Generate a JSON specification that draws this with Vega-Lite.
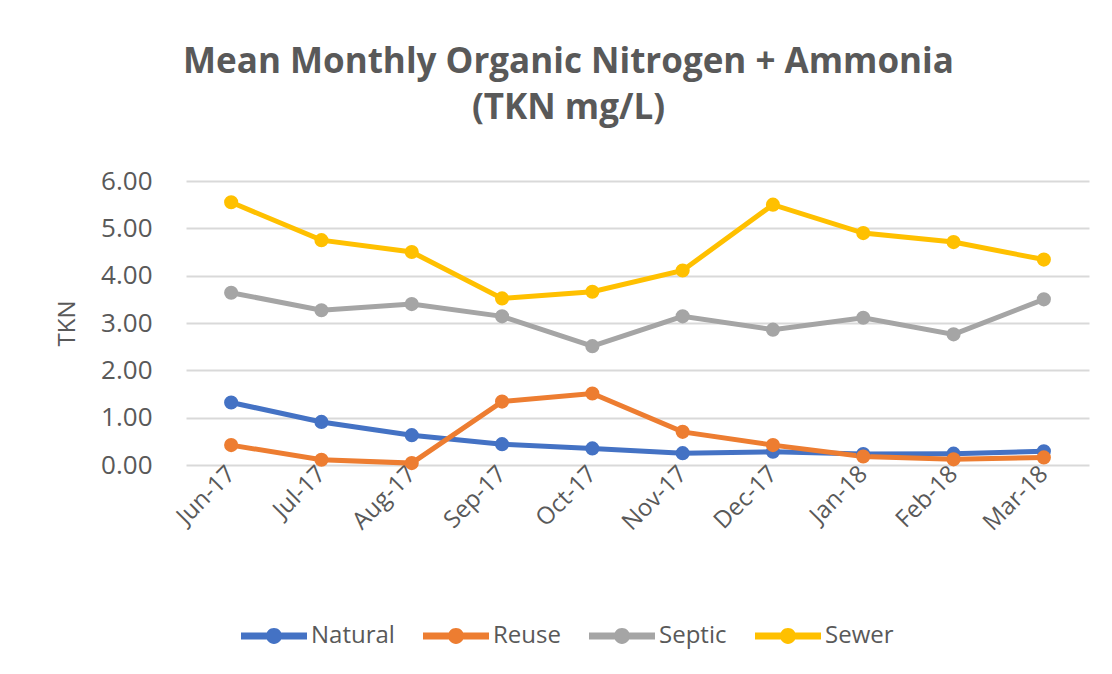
{
  "$schema": "https://vega.github.io/schema/vega-lite/v6.json",
  "width": 903,
  "height": 284,
  "autosize": {"type": "none"},
  "padding": {"left": 186, "top": 181, "right": 23, "bottom": 209},
  "background": "white",
  "title": {
    "text": ["Mean Monthly Organic Nitrogen + Ammonia", "(TKN mg/L)"],
    "font": "Open Sans",
    "fontSize": 35,
    "fontWeight": "bold",
    "color": "#595959",
    "anchor": "middle",
    "dx": -69,
    "offset": 42,
    "lineHeight": 46
  },
  "data": {
    "values": [
      {"month": "Jun-17", "site": "Natural", "tkn": 1.32},
      {"month": "Jul-17", "site": "Natural", "tkn": 0.91},
      {"month": "Aug-17", "site": "Natural", "tkn": 0.63},
      {"month": "Sep-17", "site": "Natural", "tkn": 0.44},
      {"month": "Oct-17", "site": "Natural", "tkn": 0.35},
      {"month": "Nov-17", "site": "Natural", "tkn": 0.25},
      {"month": "Dec-17", "site": "Natural", "tkn": 0.28},
      {"month": "Jan-18", "site": "Natural", "tkn": 0.23},
      {"month": "Feb-18", "site": "Natural", "tkn": 0.24},
      {"month": "Mar-18", "site": "Natural", "tkn": 0.29},
      {"month": "Jun-17", "site": "Reuse", "tkn": 0.42},
      {"month": "Jul-17", "site": "Reuse", "tkn": 0.11},
      {"month": "Aug-17", "site": "Reuse", "tkn": 0.04},
      {"month": "Sep-17", "site": "Reuse", "tkn": 1.34},
      {"month": "Oct-17", "site": "Reuse", "tkn": 1.51},
      {"month": "Nov-17", "site": "Reuse", "tkn": 0.70},
      {"month": "Dec-17", "site": "Reuse", "tkn": 0.42},
      {"month": "Jan-18", "site": "Reuse", "tkn": 0.18},
      {"month": "Feb-18", "site": "Reuse", "tkn": 0.12},
      {"month": "Mar-18", "site": "Reuse", "tkn": 0.16},
      {"month": "Jun-17", "site": "Septic", "tkn": 3.64},
      {"month": "Jul-17", "site": "Septic", "tkn": 3.27},
      {"month": "Aug-17", "site": "Septic", "tkn": 3.40},
      {"month": "Sep-17", "site": "Septic", "tkn": 3.14},
      {"month": "Oct-17", "site": "Septic", "tkn": 2.51},
      {"month": "Nov-17", "site": "Septic", "tkn": 3.14},
      {"month": "Dec-17", "site": "Septic", "tkn": 2.86},
      {"month": "Jan-18", "site": "Septic", "tkn": 3.11},
      {"month": "Feb-18", "site": "Septic", "tkn": 2.76},
      {"month": "Mar-18", "site": "Septic", "tkn": 3.50},
      {"month": "Jun-17", "site": "Sewer", "tkn": 5.55},
      {"month": "Jul-17", "site": "Sewer", "tkn": 4.75},
      {"month": "Aug-17", "site": "Sewer", "tkn": 4.50},
      {"month": "Sep-17", "site": "Sewer", "tkn": 3.52},
      {"month": "Oct-17", "site": "Sewer", "tkn": 3.66},
      {"month": "Nov-17", "site": "Sewer", "tkn": 4.11},
      {"month": "Dec-17", "site": "Sewer", "tkn": 5.50},
      {"month": "Jan-18", "site": "Sewer", "tkn": 4.90},
      {"month": "Feb-18", "site": "Sewer", "tkn": 4.71},
      {"month": "Mar-18", "site": "Sewer", "tkn": 4.34}
    ]
  },
  "mark": {"type": "line", "strokeWidth": 5, "point": {"filled": true, "size": 200, "opacity": 1}},
  "encoding": {
    "x": {
      "field": "month",
      "type": "ordinal",
      "sort": null,
      "scale": {"type": "point", "padding": 0.5},
      "axis": {
        "title": null,
        "labelAngle": -45,
        "labelAlign": "right",
        "labelBaseline": "middle",
        "labelFont": "Open Sans",
        "labelFontSize": 24,
        "labelColor": "#595959",
        "labelPadding": 5,
        "ticks": false,
        "domain": false,
        "grid": false
      }
    },
    "y": {
      "field": "tkn",
      "type": "quantitative",
      "scale": {"domain": [0, 6], "nice": false},
      "axis": {
        "title": "TKN",
        "titleFont": "Open Sans",
        "titleFontSize": 24,
        "titleFontWeight": "normal",
        "titleColor": "#595959",
        "titlePadding": 21,
        "values": [0, 1, 2, 3, 4, 5, 6],
        "format": ".2f",
        "labelFont": "Open Sans",
        "labelFontSize": 26,
        "labelColor": "#595959",
        "labelPadding": 34,
        "ticks": false,
        "domain": false,
        "grid": true,
        "gridColor": "#d9d9d9",
        "gridWidth": 2
      }
    },
    "color": {
      "field": "site",
      "type": "nominal",
      "scale": {
        "domain": ["Natural", "Reuse", "Septic", "Sewer"],
        "range": ["#4472C4", "#ED7D31", "#A5A5A5", "#FFC000"]
      },
      "legend": {
        "title": null,
        "orient": "none",
        "direction": "horizontal",
        "legendX": 55,
        "legendY": 422,
        "labelFont": "Open Sans",
        "labelFontSize": 24,
        "labelColor": "#595959",
        "symbolType": "M-1,-0.106L1,-0.106L1,0.106L-1,0.106Z M0.24,0A0.24,0.24,0,1,1,-0.24,0A0.24,0.24,0,1,1,0.24,0Z",
        "symbolSize": 4356,
        "symbolStrokeWidth": 0,
        "labelOffset": 4,
        "columnPadding": 28,
        "encode": {
          "symbols": {"update": {"fill": {"scale": "color", "field": "value"}, "opacity": {"value": 1}}}
        }
      }
    }
  },
  "config": {"view": {"stroke": null}}
}
